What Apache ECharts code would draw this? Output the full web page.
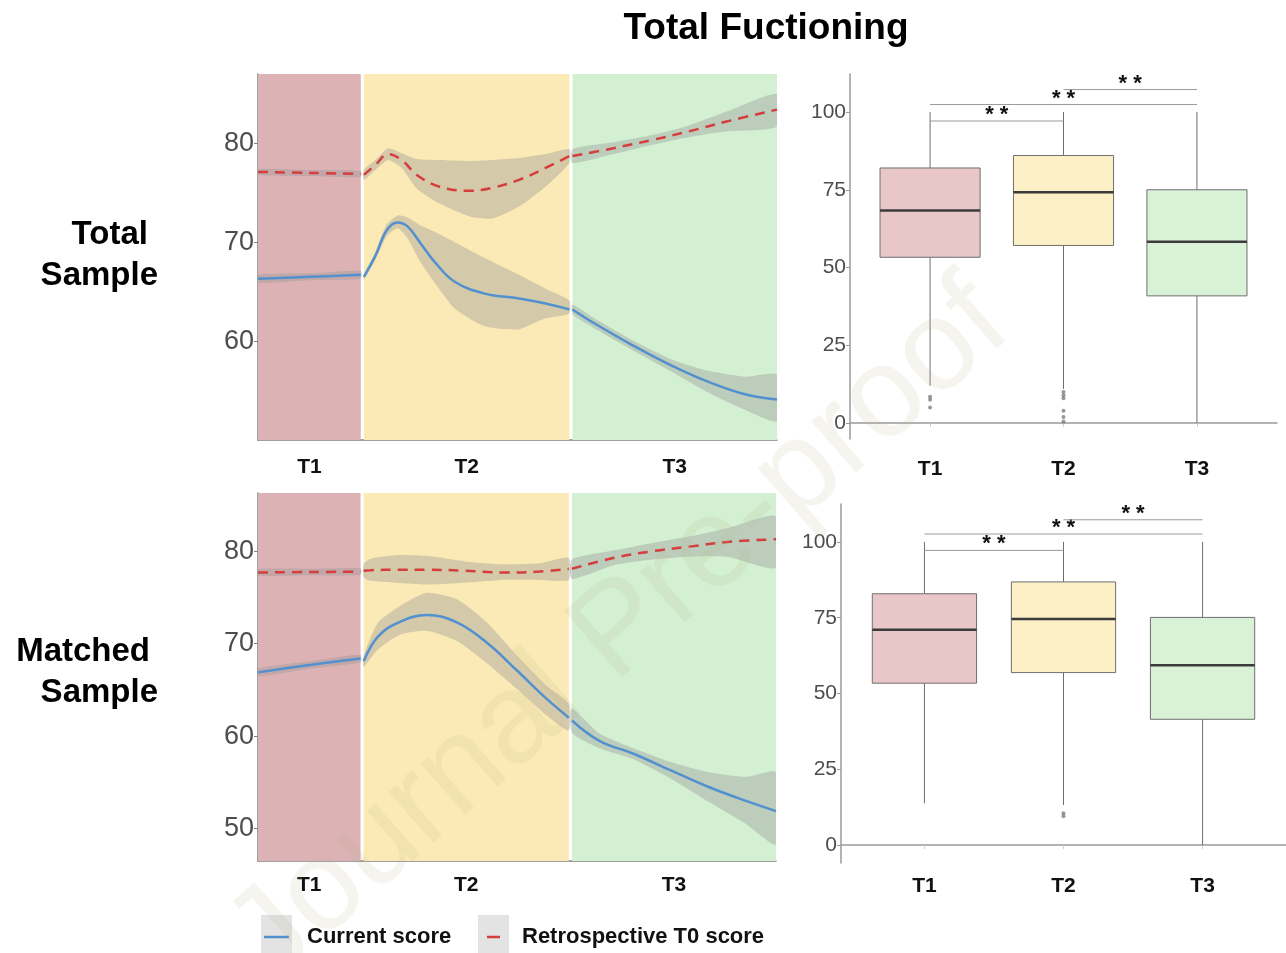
<!DOCTYPE html>
<html>
<head>
<meta charset="utf-8">
<title>Total Fuctioning</title>
<script src="https://cdn.jsdelivr.net/npm/echarts@6/dist/echarts.min.js"></script>
<style>
  html, body { margin: 0; padding: 0; background: #fff; }
  #chart { width: 1286px; height: 953px; }
</style>
</head>
<body>
<div id="chart"></div>
<script>
// periods and where they sit on the timeline (0-100)
var periods = ['T1', 'T2', 'T3'];
var periodEdges = [[0, 19.8], [20.4, 60.0], [60.6, 100]];
var periodColors = ['#dcb2b4', '#fbeab5', '#d3f0d2'];
var boxColors = ['#e9c7c9', '#fdf0c6', '#d9f2d7'];

// smooth curves, rows are [x, fit, lower, upper]
// total sample - current score
var totCurT1 = [[0, 66.3, 65.9, 66.7], [10, 66.5, 66.15, 66.85], [19.8, 66.7, 66.3, 67.1]];
var totCurT2 = [[20.4, 66.5, 66.2, 66.8], [22.6, 68.6, 68.2, 69.0], [24.8, 71.2, 70.6, 71.8], [26.9, 72.0, 71.4, 72.7],
  [28.8, 71.6, 70.4, 72.5], [31.3, 69.9, 68.0, 71.7], [34.2, 67.9, 65.8, 71.0], [37.9, 66.0, 63.3, 70.0],
  [43.7, 64.8, 61.5, 68.4], [50.3, 64.3, 61.2, 66.7], [55.4, 63.8, 62.3, 65.3], [60.0, 63.2, 62.8, 64.1]];
var totCurT3 = [[60.6, 63.2, 62.7, 63.7], [64.8, 61.8, 61.3, 62.3], [72.1, 59.6, 59.1, 60.1], [79.4, 57.6, 57.0, 58.2],
  [86.7, 55.9, 54.8, 57.0], [94.0, 54.6, 53.0, 56.4], [100, 54.1, 51.9, 56.6]];
// total sample - retrospective T0 score
var totRetT1 = [[0, 77.1, 76.8, 77.4], [10, 77.0, 76.7, 77.3], [19.8, 76.9, 76.6, 77.2]];
var totRetT2 = [[20.4, 76.8, 76.3, 77.3], [22.6, 77.8, 77.3, 78.3], [25.1, 78.9, 78.3, 79.5], [27.7, 78.3, 77.5, 79.0],
  [30.6, 76.8, 75.4, 78.4], [35.0, 75.6, 73.9, 78.3], [40.8, 75.2, 72.6, 78.2], [45.2, 75.5, 72.4, 78.3],
  [50.3, 76.3, 73.6, 78.5], [55.4, 77.5, 75.6, 78.9], [60.0, 78.7, 78.0, 79.4]];
var totRetT3 = [[60.6, 78.7, 78.0, 79.4], [68.5, 79.5, 78.9, 80.1], [75.7, 80.3, 79.8, 80.8], [83.0, 81.2, 80.6, 81.8],
  [90.3, 82.2, 81.2, 83.2], [100, 83.4, 81.7, 85.0]];
// matched sample - current score
var matCurT1 = [[0, 66.9, 66.5, 67.3], [10, 67.7, 67.3, 68.1], [19.8, 68.4, 68.0, 68.8]];
var matCurT2 = [[20.4, 68.1, 67.5, 68.7], [23.2, 70.8, 69.4, 72.3], [27.5, 72.4, 71.0, 74.1], [32.6, 73.1, 71.4, 75.5],
  [38.4, 72.3, 70.3, 74.8], [44.2, 70.1, 67.9, 72.3], [50.0, 67.1, 65.1, 68.7], [55.8, 64.0, 62.2, 65.4],
  [60.0, 62.0, 60.6, 63.5]];
var matCurT3 = [[60.6, 61.7, 60.4, 63.0], [65.9, 59.5, 58.7, 60.3], [72.5, 58.1, 57.5, 58.7], [79.7, 56.3, 55.4, 57.2],
  [87.0, 54.5, 52.9, 56.1], [94.2, 53.0, 50.5, 55.6], [100, 51.9, 48.3, 56.1]];
// matched sample - retrospective T0 score
var matRetT1 = [[0, 77.7, 77.35, 78.05], [10, 77.75, 77.4, 78.1], [19.8, 77.8, 77.45, 78.15]];
var matRetT2 = [[20.4, 77.9, 77.2, 78.6], [21.7, 77.95, 76.8, 79.2], [26.8, 78.0, 76.6, 79.6], [32.6, 78.0, 76.4, 79.5],
  [39.9, 77.9, 76.6, 78.9], [47.1, 77.7, 76.9, 78.6], [54.3, 77.8, 76.9, 78.7], [60.0, 78.1, 76.9, 79.3]];
var matRetT3 = [[60.6, 78.1, 77.0, 79.1], [68.8, 79.3, 78.5, 80.1], [76.1, 80.0, 79.1, 80.9], [83.3, 80.5, 79.4, 81.6],
  [90.6, 81.0, 79.4, 82.5], [100, 81.3, 78.2, 83.8]];

// boxplots, rows are [period, lower whisker, Q1, median, Q3, upper whisker]
var totBox = [[1, 12, 53.3, 68.3, 82.0, 100], [2, 11, 57.1, 74.2, 86.0, 100], [3, 0, 40.9, 58.3, 75.0, 100]];
var totOutliers = [[1, 8.5], [1, 7.5], [1, 5], [2, 10], [2, 9], [2, 8], [2, 4], [2, 2], [2, 0.5]];
var matBox = [[1, 13.8, 53.4, 71.0, 82.9, 100], [2, 13.2, 56.9, 74.6, 86.8, 100], [3, 0, 41.5, 59.3, 75.1, 100]];
var matOutliers = [[2, 10.5], [2, 9.5]];
// significance brackets [from, to, height]
var totSig = [[1, 2, 97.1], [1, 3, 102.4], [2, 3, 107.2]];
var matSig = [[1, 2, 97.2], [1, 3, 102.6], [2, 3, 107.3]];

var FONT = 'Liberation Sans, Arial, sans-serif';
var myChart = echarts.init(document.getElementById('chart'), null, { renderer: 'canvas' });

function bandSeries(gi) {
  return {
    type: 'custom', xAxisIndex: gi, yAxisIndex: gi, silent: true, z: 1,
    data: periodEdges.map(function (e, i) { return [e[0], e[1], i]; }),
    renderItem: function (params, api) {
      var cs = params.coordSys;
      var a = api.coord([api.value(0), 0]);
      var b = api.coord([api.value(1), 0]);
      return {
        type: 'rect',
        shape: { x: a[0], y: cs.y, width: b[0] - a[0], height: cs.height },
        style: { fill: periodColors[api.value(2)] }
      };
    }
  };
}

// confidence ribbon: one polygon made of the upper edge and the lower edge reversed
function ribbonSeries(rows, gi) {
  return {
    type: 'custom', xAxisIndex: gi, yAxisIndex: gi, silent: true, z: 2, clip: true,
    data: rows,
    renderItem: function (params, api) {
      if (params.dataIndexInside !== 0) return null;
      var up = [], dn = [];
      for (var i = 0; i < rows.length; i++) {
        up.push(api.coord([api.value(0, i), api.value(3, i)]));
        dn.push(api.coord([api.value(0, i), api.value(2, i)]));
      }
      return {
        type: 'polygon',
        shape: { points: up.concat(dn.reverse()), smooth: 0.2 },
        style: { fill: 'rgba(150,150,150,0.38)' }
      };
    }
  };
}

function curveSeries(rows, gi, retro) {
  return {
    type: 'line', xAxisIndex: gi, yAxisIndex: gi, smooth: 0.4, silent: true,
    showSymbol: false, symbol: 'none', z: 3,
    data: rows.map(function (r) { return [r[0], r[1]]; }),
    lineStyle: retro
      ? { color: '#d63d3d', width: 2.5, type: [10, 7] }
      : { color: '#5290cf', width: 2.5 }
  };
}

function boxSeries(rows, gi) {
  return {
    type: 'custom', xAxisIndex: gi, yAxisIndex: gi, silent: true, z: 3,
    data: rows,
    renderItem: function (params, api) {
      var x = api.value(0);
      var w = api.size([0.75, 0])[0];
      var lo = api.coord([x, api.value(1)]);
      var q1 = api.coord([x, api.value(2)]);
      var md = api.coord([x, api.value(3)]);
      var q3 = api.coord([x, api.value(4)]);
      var hi = api.coord([x, api.value(5)]);
      var line = { stroke: '#6e6e6e', lineWidth: 1 };
      return {
        type: 'group',
        children: [
          { type: 'line', shape: { x1: lo[0], y1: lo[1], x2: q1[0], y2: q1[1] }, style: line },
          { type: 'line', shape: { x1: q3[0], y1: q3[1], x2: hi[0], y2: hi[1] }, style: line },
          {
            type: 'rect', shape: { x: q3[0] - w / 2, y: q3[1], width: w, height: q1[1] - q3[1] },
            style: { fill: boxColors[x - 1], stroke: '#6e6e6e', lineWidth: 1 }
          },
          {
            type: 'line', shape: { x1: md[0] - w / 2, y1: md[1], x2: md[0] + w / 2, y2: md[1] },
            style: { stroke: '#3b3b3b', lineWidth: 2.5 }
          }
        ]
      };
    }
  };
}

function sigSeries(rows, gi) {
  return {
    type: 'custom', xAxisIndex: gi, yAxisIndex: gi, silent: true, z: 4,
    data: rows,
    renderItem: function (params, api) {
      var a = api.coord([api.value(0), api.value(2)]);
      var b = api.coord([api.value(1), api.value(2)]);
      return {
        type: 'group',
        children: [
          { type: 'line', shape: { x1: a[0], y1: a[1], x2: b[0], y2: b[1] }, style: { stroke: '#9a9a9a', lineWidth: 1 } },
          {
            type: 'text',
            style: {
              text: '* *', x: (a[0] + b[0]) / 2, y: a[1] + 5, align: 'center', verticalAlign: 'bottom',
              font: 'bold 22px ' + FONT, fill: '#111'
            }
          }
        ]
      };
    }
  };
}

function outlierSeries(rows, gi) {
  return {
    type: 'scatter', xAxisIndex: gi, yAxisIndex: gi, silent: true, z: 4,
    data: rows, symbolSize: 4, itemStyle: { color: '#555', opacity: 0.6 }
  };
}

function lineXAxis(gi, margin) {
  return {
    type: 'value', gridIndex: gi, min: 0, max: 100,
    axisLine: { lineStyle: { color: '#808080', width: 1.5 } },
    axisTick: { show: false }, splitLine: { show: false },
    axisLabel: {
      customValues: periodEdges.map(function (e) { return (e[0] + e[1]) / 2; }),
      formatter: function (v) {
        for (var i = 0; i < periodEdges.length; i++) {
          if (Math.abs((periodEdges[i][0] + periodEdges[i][1]) / 2 - v) < 0.01) return periods[i];
        }
        return '';
      },
      margin: margin, fontFamily: FONT, fontWeight: 'bold', fontSize: 21, color: '#111'
    }
  };
}

function lineYAxis(gi, min, max, ticks) {
  return {
    type: 'value', gridIndex: gi, min: min, max: max,
    axisLine: { show: true, lineStyle: { color: '#808080', width: 1.5 } },
    axisTick: { show: true, customValues: ticks, length: 4, lineStyle: { color: '#808080' } },
    splitLine: { show: false },
    axisLabel: { customValues: ticks, fontFamily: FONT, fontSize: 27, color: '#4d4d4d', margin: 4 }
  };
}

function boxXAxis(gi, margin) {
  return {
    type: 'value', gridIndex: gi, min: 0.4, max: 3.6,
    axisLine: { lineStyle: { color: '#9a9a9a', width: 1.5 } },
    axisTick: { show: true, customValues: [1, 2, 3], length: 4, lineStyle: { color: '#cfcfcf' } },
    splitLine: { show: false },
    axisLabel: {
      customValues: [1, 2, 3],
      formatter: function (v) { return periods[Math.round(v) - 1]; },
      margin: margin, fontFamily: FONT, fontWeight: 'bold', fontSize: 21, color: '#111'
    }
  };
}

function boxYAxis(gi, min, max) {
  var ticks = [0, 25, 50, 75, 100];
  return {
    type: 'value', gridIndex: gi, min: min, max: max,
    axisLine: { show: true, lineStyle: { color: '#9a9a9a', width: 1.5 } },
    axisTick: { show: true, customValues: ticks, length: 4, lineStyle: { color: '#9a9a9a' } },
    splitLine: { show: false },
    axisLabel: { customValues: ticks, fontFamily: FONT, fontSize: 21, color: '#4d4d4d', margin: 4 }
  };
}

var series = [bandSeries(0), bandSeries(1)];
[[totCurT1, totCurT2, totCurT3, totRetT1, totRetT2, totRetT3, 0],
 [matCurT1, matCurT2, matCurT3, matRetT1, matRetT2, matRetT3, 1]].forEach(function (p) {
  var gi = p[6];
  for (var i = 0; i < 6; i++) {
    series.push(ribbonSeries(p[i], gi));
  }
  for (var j = 0; j < 6; j++) {
    series.push(curveSeries(p[j], gi, j >= 3));
  }
});
series.push(boxSeries(totBox, 2), outlierSeries(totOutliers, 2), sigSeries(totSig, 2));
series.push(boxSeries(matBox, 3), outlierSeries(matOutliers, 3), sigSeries(matSig, 3));

var option = {
  backgroundColor: '#fff',
  animation: false,
  grid: [
    { left: 258, top: 74, width: 519, height: 366 },
    { left: 258, top: 493, width: 518, height: 368 },
    { left: 850, top: 74, width: 427, height: 365 },
    { left: 841, top: 504, width: 446, height: 359 }
  ],
  xAxis: [lineXAxis(0, 17), lineXAxis(1, 14), boxXAxis(2, 20), boxXAxis(3, 13)],
  yAxis: [
    lineYAxis(0, 50, 87, [60, 70, 80]),
    lineYAxis(1, 46.5, 86.3, [50, 60, 70, 80]),
    boxYAxis(2, -5.1, 112.2),
    boxYAxis(3, -5.9, 112.5)
  ],
  series: series,
  graphic: [
    {
      type: 'text', z: 50,
      style: { text: 'Total Fuctioning', x: 766, y: 29, align: 'center', verticalAlign: 'middle',
        font: 'bold 37px ' + FONT, fill: '#000' }
    },
    { type: 'text', z: 50, style: { text: 'Total', x: 148, y: 235, align: 'right', verticalAlign: 'middle', font: 'bold 33px ' + FONT, fill: '#000' } },
    { type: 'text', z: 50, style: { text: 'Sample', x: 158, y: 276, align: 'right', verticalAlign: 'middle', font: 'bold 33px ' + FONT, fill: '#000' } },
    { type: 'text', z: 50, style: { text: 'Matched', x: 150, y: 652, align: 'right', verticalAlign: 'middle', font: 'bold 33px ' + FONT, fill: '#000' } },
    { type: 'text', z: 50, style: { text: 'Sample', x: 158, y: 693, align: 'right', verticalAlign: 'middle', font: 'bold 33px ' + FONT, fill: '#000' } },
    // legend
    { type: 'rect', z: 50, shape: { x: 261, y: 915, width: 31, height: 40 }, style: { fill: '#e3e3e3' } },
    { type: 'line', z: 51, shape: { x1: 264, y1: 937, x2: 289, y2: 937 }, style: { stroke: '#5290cf', lineWidth: 2.5 } },
    { type: 'text', z: 50, style: { text: 'Current score', x: 307, y: 937, verticalAlign: 'middle', font: 'bold 22px ' + FONT, fill: '#111' } },
    { type: 'rect', z: 50, shape: { x: 478, y: 915, width: 31, height: 40 }, style: { fill: '#e3e3e3' } },
    { type: 'line', z: 51, shape: { x1: 487, y1: 937, x2: 500, y2: 937 }, style: { stroke: '#d63d3d', lineWidth: 2.5 } },
    { type: 'text', z: 50, style: { text: 'Retrospective T0 score', x: 522, y: 937, verticalAlign: 'middle', font: 'bold 22px ' + FONT, fill: '#111' } },
    // watermark
    {
      type: 'text', z: 100, silent: true, x: 620, y: 632, rotation: 0.72,
      style: { text: 'Journal Pre-proof', x: 0, y: 0, align: 'center', verticalAlign: 'middle',
        font: '128px ' + FONT, fill: 'rgba(185,175,135,0.14)' }
    }
  ]
};
myChart.setOption(option);
</script>
</body>
</html>
